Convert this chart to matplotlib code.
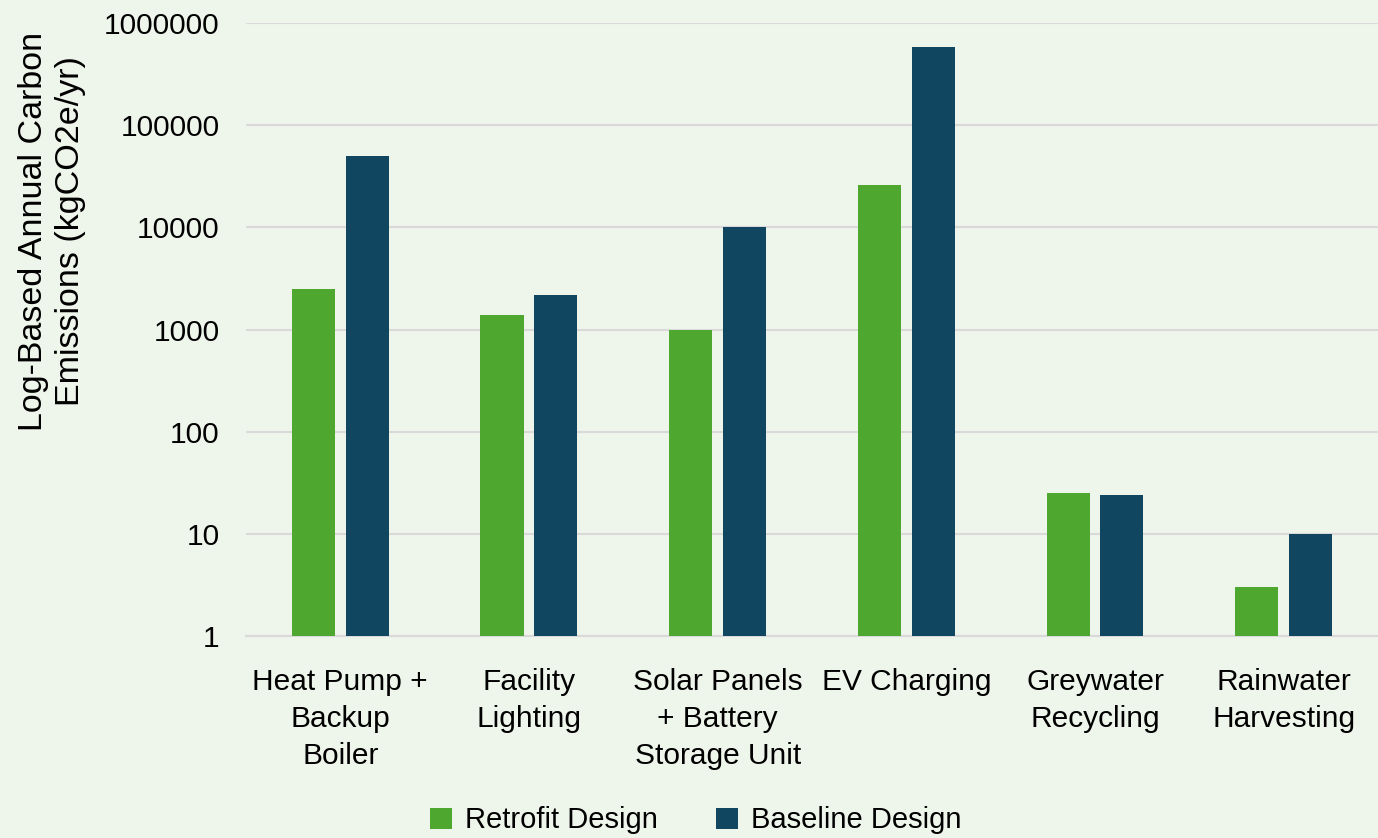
import matplotlib.pyplot as plt
import numpy as np

categories = ["Heat Pump +\nBackup\nBoiler", "Facility\nLighting",
              "Solar Panels\n+ Battery\nStorage Unit", "EV Charging",
              "Greywater\nRecycling", "Rainwater\nHarvesting"]
retrofit = [2500, 1400, 1000, 26000, 25, 3]
baseline = [50000, 2200, 10000, 580000, 24, 10]
yticks = [1, 10, 100, 1000, 10000, 100000, 1000000]

plt.rcParams['font.family'] = ['Liberation Sans', 'DejaVu Sans']
bg = "#EEF5EA"

fig = plt.figure(figsize=(13.78, 8.38), dpi=100, facecolor=bg)
ax = fig.add_axes([0.1785, 0.241, 0.8215, 0.7316], facecolor=bg)

x = np.arange(len(categories))
w = 0.228
ax.bar(x - 0.143, retrofit, w, color="#4EA72E", label="Retrofit Design", zorder=3)
ax.bar(x + 0.143, baseline, w, color="#10465F", label="Baseline Design", zorder=3)

ax.set_yscale("log")
ax.set_ylim(1, 1000000)
ax.set_xlim(-0.5, len(categories) - 0.5)
ax.set_yticks(yticks)
ax.set_yticklabels([str(v) for v in yticks])
ax.minorticks_off()
ax.set_xticks(x)
ax.set_xticklabels(categories, linespacing=1.4)
ax.tick_params(axis="both", length=0, labelsize=21.5, colors="black")
ax.tick_params(axis="y", pad=19)
ax.tick_params(axis="x", pad=23)

ax.grid(axis="y", color="#D9D9D9", linewidth=1.5, zorder=0)
for s in ["top", "right", "left"]:
    ax.spines[s].set_visible(False)
ax.spines["bottom"].set_color("#D9D9D9")
ax.spines["bottom"].set_linewidth(1.5)

fig.text(0.038, 0.724, "Log-Based Annual Carbon\nEmissions (kgCO2e/yr)", rotation=90,
         ha="center", va="center", fontsize=24.5, linespacing=1.25)

fig.legend(loc="center", bbox_to_anchor=(0.505, 0.021), ncol=2, frameon=False,
           fontsize=21, handlelength=0.75, handleheight=0.75, handletextpad=0.45,
           columnspacing=2.0)

fig.savefig("out.png", dpi=100, facecolor=bg)
